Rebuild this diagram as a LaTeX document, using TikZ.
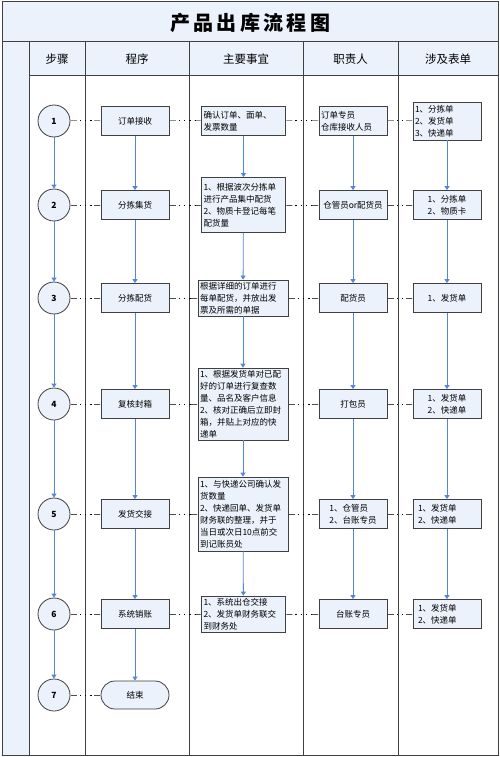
\documentclass[tikz,border=0pt]{standalone}
\usepackage{fontspec}
\setmainfont{Noto Sans CJK SC}
\usetikzlibrary{shapes,arrows.meta,positioning}
\definecolor{cellblue}{RGB}{235,242,252}
\definecolor{boxline}{RGB}{64,64,64}
\definecolor{flowblue}{RGB}{84,134,214}

\begin{document}
\begin{tikzpicture}[x=1pt, y=-1pt,
  grid/.style={draw=boxline, line width=1pt},
  box/.style={draw=boxline, fill=cellblue, line width=0.8pt, minimum width=68pt, minimum height=29pt, inner sep=2pt, align=center, font=\fontsize{8.5}{12}\selectfont},
  note/.style={box, align=left, text width=80pt, minimum width=81pt},
  stepnode/.style={circle, draw=boxline, fill=cellblue, line width=0.8pt, minimum size=32pt, inner sep=0pt, font=\fontsize{8.5}{10}\selectfont\bfseries},
  flow/.style={draw=flowblue, line width=0.8pt, -{Triangle[width=5pt,length=4pt]}},
  link/.style={line width=1pt, dash pattern=on 1.2pt off 4pt, dash phase=-3pt, {Rectangle[length=7pt,width=1pt]}-{Rectangle[length=7pt,width=1pt]}},
  head/.style={font=\fontsize{11.5}{14}\selectfont}]
\useasboundingbox (0,0) rectangle (500,757);

% 表格
\fill[cellblue] (2,2) rectangle (498,42);
\fill[cellblue] (29,42) rectangle (498,76);
\fill[cellblue] (2,42) rectangle (29,755);
\draw[grid] (2,2) rectangle (498,755);
\draw[grid] (2,42) -- (498,42);
\draw[grid] (29,76) -- (498,76);
\draw[grid] (29,42) -- (29,755);
\draw[grid] (85,42) -- (85,755);
\draw[grid] (189,42) -- (189,755);
\draw[grid] (303,42) -- (303,755);
\draw[grid] (398,42) -- (398,755);

% 标题
\node[font=\fontsize{20}{24}\selectfont\bfseries] (title) at (250,23) {产\,品\,出\,库\,流\,程\,图};
\node[head] (hstep) at (57,59) {步骤};
\node[head] (hprog) at (137,59) {程序};
\node[head] (hmain) at (246,59) {主要事宜};
\node[head] (hresp) at (350.5,59) {职责人};
\node[head] (hform) at (448,59) {涉及表单};

% 步骤
\node[stepnode] (s1) at (54,121) {1};
\node[stepnode] (s2) at (54,205) {2};
\node[stepnode] (s3) at (54,298) {3};
\node[stepnode] (s4) at (54,404) {4};
\node[stepnode] (s5) at (54,514) {5};
\node[stepnode] (s6) at (54,614) {6};
\node[stepnode] (s7) at (54,695) {7};

% 程序
\node[box] (p1) at (135,121) {订单接收};
\node[box] (p2) at (135,205) {分拣集货};
\node[box] (p3) at (135,298) {分拣配货};
\node[box] (p4) at (135,404) {复核封箱};
\node[box] (p5) at (135,514) {发货交接};
\node[box] (p6) at (135,614) {系统销账};
\node[box, rounded corners=14pt, minimum height=28pt] (end) at (135,695) {结束};

% 主要事宜
\node[note] (m1) at (243.5,121) {确认订单、面单、\\发票数量};
\node[note, minimum height=55pt] (m2) at (243.5,205) {1、根据波次分拣单\\进行产品集中配货\\2、物质卡登记每笔\\配货量};
\node[note, text width=86pt, minimum width=88pt, minimum height=36pt] (m3) at (243,298) {根据详细的订单进行\\每单配货，并放出发\\票及所需的单据};
\node[note, text width=86pt, minimum width=88pt, minimum height=70pt] (m4) at (243,404) {1、根据发货单对已配\\好的订单进行复查数\\量、品名及客户信息\\2、核对正确后立即封\\箱，并贴上对应的快\\递单};
\node[note, text width=86pt, minimum width=88pt, minimum height=74pt] (m5) at (243,514) {1、与快递公司确认发\\货数量\\2、快递回单、发货单\\财务联的整理，并于\\当日或次日10点前交\\到记账员处};
\node[note, minimum height=35pt] (m6) at (243.5,614) {1、系统出仓交接\\2、发货单财务联交\\到财务处};

% 职责人
\node[box, align=left, text width=64pt] (r1) at (353,121) {订单专员\\仓库接收人员};
\node[box] (r2) at (353,205) {仓管员or配货员};
\node[box] (r3) at (353,298) {配货员};
\node[box] (r4) at (353,404) {打包员};
\node[box, align=left] (r5) at (353,514) {1、仓管员\\2、台账专员};
\node[box] (r6) at (353,614) {台账专员};

% 涉及表单
\node[box, align=left, text width=64pt, minimum height=38pt] (f1) at (447,121) {1、分拣单\\2、发货单\\3、快递单};
\node[box, align=left] (f2) at (447,205) {1、分拣单\\2、物质卡};
\node[box] (f3) at (447,298) {1、发货单};
\node[box, align=left] (f4) at (447,404) {1、发货单\\2、快递单};
\node[box, align=left, text width=58pt] (f5) at (447,514) {1、发货单\\2、快递单};
\node[box, align=left, text width=58pt] (f6) at (447,614) {1、发货单\\2、快递单};

% 横向连接线
\draw[link] (s1) -- (p1); \draw[link] (p1) -- (m1); \draw[link] (m1) -- (r1); \draw[link] (r1) -- (f1);
\draw[link] (s2) -- (p2); \draw[link] (p2) -- (m2); \draw[link] (m2) -- (r2); \draw[link] (r2) -- (f2);
\draw[link] (s3) -- (p3); \draw[link] (p3) -- (m3); \draw[link] (m3) -- (r3); \draw[link] (r3) -- (f3);
\draw[link] (s4) -- (p4); \draw[link] (p4) -- (m4); \draw[link] (m4) -- (r4); \draw[link] (r4) -- (f4);
\draw[link] (s5) -- (p5); \draw[link] (p5) -- (m5); \draw[link] (m5) -- (r5); \draw[link] (r5) -- (f5);
\draw[link] (s6) -- (p6); \draw[link] (p6) -- (m6); \draw[link] (m6) -- (r6); \draw[link] (r6) -- (f6);
\draw[link] (s7) -- (end);

% 纵向流程线
\draw[flow] (s1) -- (s2); \draw[flow] (s2) -- (s3); \draw[flow] (s3) -- (s4);
\draw[flow] (s4) -- (s5); \draw[flow] (s5) -- (s6); \draw[flow] (s6) -- (s7);
\draw[flow] (p1) -- (p2); \draw[flow] (p2) -- (p3); \draw[flow] (p3) -- (p4);
\draw[flow] (p4) -- (p5); \draw[flow] (p5) -- (p6); \draw[flow] (p6) -- (end);
\draw[flow] (m1) -- (m2); \draw[flow] (m2) -- (m3); \draw[flow] (m3) -- (m4);
\draw[flow] (m4) -- (m5); \draw[flow] (m5) -- (m6);
\draw[flow] (r1) -- (r2); \draw[flow] (r2) -- (r3); \draw[flow] (r3) -- (r4);
\draw[flow] (r4) -- (r5); \draw[flow] (r5) -- (r6);
\draw[flow] (f1) -- (f2); \draw[flow] (f2) -- (f3); \draw[flow] (f3) -- (f4);
\draw[flow] (f4) -- (f5); \draw[flow] (f5) -- (f6);
\end{tikzpicture}
\end{document}
